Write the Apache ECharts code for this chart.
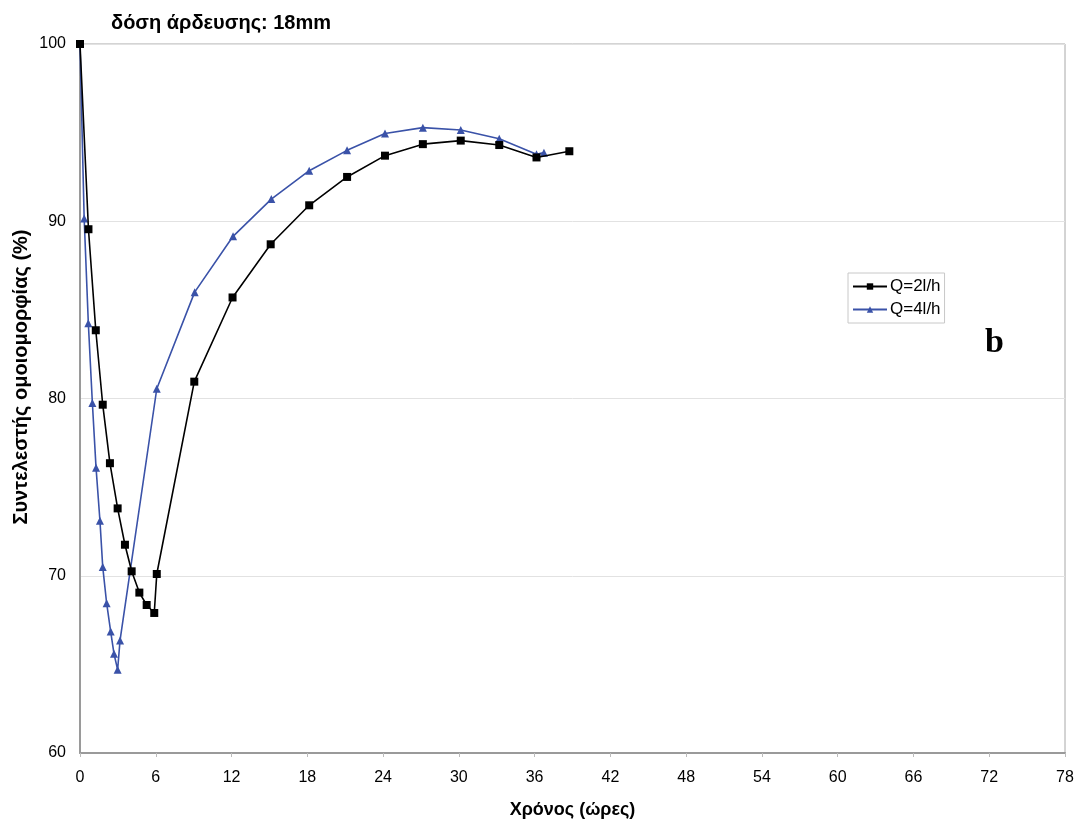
<!DOCTYPE html>
<html>
<head>
<meta charset="utf-8">
<script src="https://cdn.jsdelivr.net/npm/echarts@6/dist/echarts.min.js"></script>
<style>
html,body{margin:0;padding:0;background:#fff;}
#chart{width:1083px;height:824px;}
</style>
</head>
<body>
<div id="chart"></div>
<script>
// Data
const q2Hours = [0, 0.67, 1.25, 1.8, 2.37, 2.98, 3.56, 4.09, 4.7, 5.28, 5.88, 6.08, 9.05, 12.08, 15.1, 18.15, 21.15, 24.15, 27.15, 30.15, 33.2, 36.15, 38.75];
const q2Values = [100, 89.55, 83.85, 79.65, 76.35, 73.8, 71.75, 70.25, 69.05, 68.35, 67.9, 70.1, 80.95, 85.7, 88.7, 90.9, 92.5, 93.7, 94.35, 94.55, 94.3, 93.6, 93.95];
const q4Hours = [0, 0.33, 0.66, 0.98, 1.27, 1.58, 1.8, 2.11, 2.43, 2.69, 2.98, 3.17, 6.08, 9.08, 12.12, 15.15, 18.15, 21.15, 24.15, 27.15, 30.15, 33.2, 36.15, 36.74];
const q4Values = [100, 90.15, 84.25, 79.75, 76.1, 73.1, 70.5, 68.45, 66.85, 65.6, 64.7, 66.35, 80.55, 86.0, 89.15, 91.25, 92.85, 94.0, 94.95, 95.28, 95.15, 94.65, 93.78, 93.87];
const seriesNames = ['Q=2l/h', 'Q=4l/h'];
const titleText = 'δόση άρδευσης: 18mm';
const xAxisName = 'Χρόνος (ώρες)';
const yAxisName = 'Συντελεστής ομοιομορφίας (%)';
const panelLabel = 'b';

const pair = (xs, ys) => xs.map((x, i) => [x, ys[i]]);
const FONT = 'Liberation Sans, Arial, sans-serif';

const chart = echarts.init(document.getElementById('chart'));
chart.setOption({
  animation: false,
  backgroundColor: '#fff',
  title: {
    text: titleText,
    left: 106, top: 8,
    textStyle: {fontFamily: FONT, fontWeight: 'bold', fontSize: 20, color: '#000'}
  },
  graphic: [
    {
      type: 'text', left: 985, top: 326,
      style: {text: panelLabel, font: 'bold 34px "Liberation Serif", "Times New Roman", serif', fill: '#000'}
    },
    {
      type: 'text', x: 21, y: 377, rotation: Math.PI / 2,
      style: {text: yAxisName, font: 'bold 20px "Liberation Sans", Arial, sans-serif', fill: '#000', align: 'center', verticalAlign: 'middle'}
    }
  ],
  legend: {
    orient: 'vertical',
    left: 848, top: 273,
    itemWidth: 34, itemHeight: 8, itemGap: 6,
    padding: [5, 4, 5, 4],
    borderColor: '#c8c8c8', borderWidth: 1,
    textStyle: {fontFamily: FONT, fontSize: 17, color: '#000', padding: [0, 0, 0, -2]},
    data: seriesNames
  },
  grid: {left: 80, right: 18, top: 44, bottom: 71, show: true, borderColor: '#a8a8a8', borderWidth: 1, containLabel: false, outerBoundsMode: 'none'},
  xAxis: {
    type: 'value', min: 0, max: 78, interval: 6,
    name: xAxisName, nameLocation: 'middle', nameGap: 48,
    nameTextStyle: {fontFamily: FONT, fontWeight: 'bold', fontSize: 18, color: '#000'},
    axisLine: {lineStyle: {color: '#9a9a9a', width: 2}},
    axisTick: {show: true, length: 4, lineStyle: {color: '#bbb'}},
    axisLabel: {fontFamily: FONT, fontSize: 16, color: '#000', margin: 17},
    splitLine: {show: false}
  },
  yAxis: {
    type: 'value', min: 60, max: 100, interval: 10,
    axisLine: {show: true, lineStyle: {color: '#9a9a9a', width: 2}},
    axisTick: {show: false},
    axisLabel: {fontFamily: FONT, fontSize: 16, color: '#000', margin: 14},
    splitLine: {show: true, lineStyle: {color: '#e2e2e2', width: 1}}
  },
  series: [
    {
      name: seriesNames[0], type: 'line', data: pair(q2Hours, q2Values),
      symbol: 'rect', symbolSize: 8,
      lineStyle: {color: '#000', width: 1.6},
      itemStyle: {color: '#000'},
      z: 3
    },
    {
      name: seriesNames[1], type: 'line', data: pair(q4Hours, q4Values),
      symbol: 'triangle', symbolSize: 8,
      lineStyle: {color: '#3a52a8', width: 1.6},
      itemStyle: {color: '#3a52a8'},
      z: 2
    }
  ]
});
</script>
</body>
</html>
